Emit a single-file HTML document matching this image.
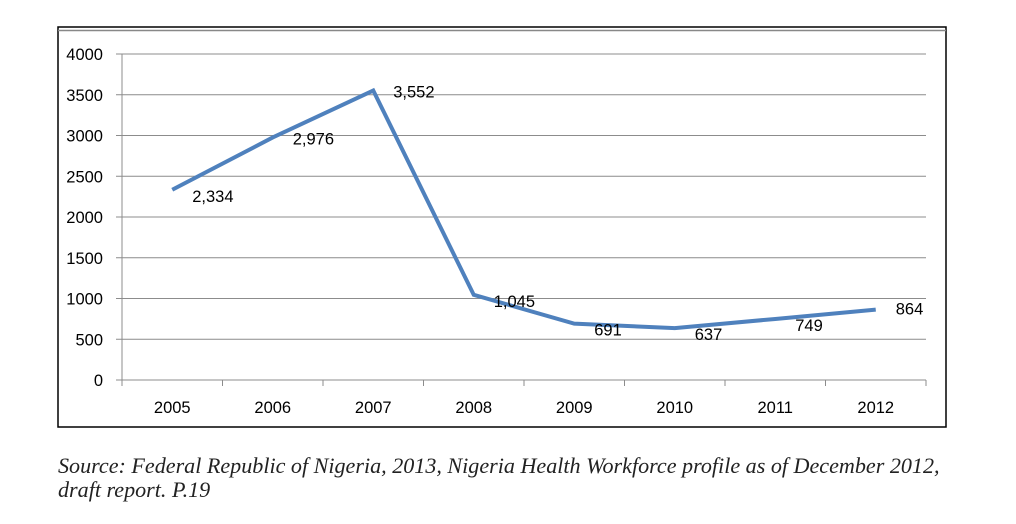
<!DOCTYPE html>
<html><head><meta charset="utf-8"><style>
body{margin:0;background:#fff;width:1016px;height:524px;overflow:hidden}
.src{position:absolute;left:58px;font-family:"Liberation Serif",serif;font-style:italic;font-size:22.1px;color:#222;white-space:nowrap}
</style></head><body>
<svg width="1016" height="524" style="position:absolute;left:0;top:0">
<rect x="58" y="27" width="888" height="400" fill="none" stroke="#000" stroke-width="1.5"/>
<line x1="58" y1="30.5" x2="946" y2="30.5" stroke="#888" stroke-width="1.5"/>
<g id="g"></g>
</svg>
<div class="src" style="top:453px">Source: Federal Republic of Nigeria, 2013, Nigeria Health Workforce profile as of December 2012,</div>
<div class="src" style="top:477px">draft report. P.19</div>
<script>
const categories=["2005","2006","2007","2008","2009","2010","2011","2012"];
const values=[2334,2976,3552,1045,691,637,749,864];
const labels=["2,334","2,976","3,552","1,045","691","637","749","864"];
const yTicks=[0,500,1000,1500,2000,2500,3000,3500,4000];
const L=122,R=926,T=54,B=380,yMax=4000;
const bw=(R-L)/categories.length;
const x=i=>L+bw*(i+0.5), y=v=>B-(v/yMax)*(B-T);
const g=document.getElementById('g');const NS="http://www.w3.org/2000/svg";
function mk(t,a,txt){const e=document.createElementNS(NS,t);for(const k in a)e.setAttribute(k,a[k]);if(txt!=null)e.textContent=txt;g.appendChild(e);return e;}
const F='"Liberation Sans",sans-serif';
yTicks.forEach(v=>{
 const l=mk('line',{x1:L-6,x2:R,y1:y(v),y2:y(v),stroke:'#8c8c8c','stroke-width':1});
 
 
 const t=mk('text',{x:103,y:y(v)+6,'text-anchor':'end','font-family':F,'font-size':16.5,fill:'#000'},v);
 
 
});
mk('line',{x1:L,x2:L,y1:T,y2:B,stroke:'#8c8c8c'});
for(let i=0;i<=categories.length;i++){mk('line',{x1:L+bw*i,x2:L+bw*i,y1:B,y2:B+6,stroke:'#8c8c8c'});}
categories.forEach((c,i)=>{
 const t=mk('text',{x:x(i),y:413,'text-anchor':'middle','font-family':F,'font-size':16.5,fill:'#000'},c);
 
 
});
const p=mk('polyline',{points:values.map((v,i)=>x(i)+','+y(v)).join(' '),fill:'none',stroke:'#4f81bd','stroke-width':4,'stroke-linejoin':'miter'});


values.forEach((v,i)=>{
 const t=mk('text',{x:x(i)+20,y:y(v)+(i==2?7:(i==7?5:(i==1?7:12))),'font-family':F,'font-size':16.5,fill:'#000'},labels[i]);
 
 
});
</script>
</body></html>
